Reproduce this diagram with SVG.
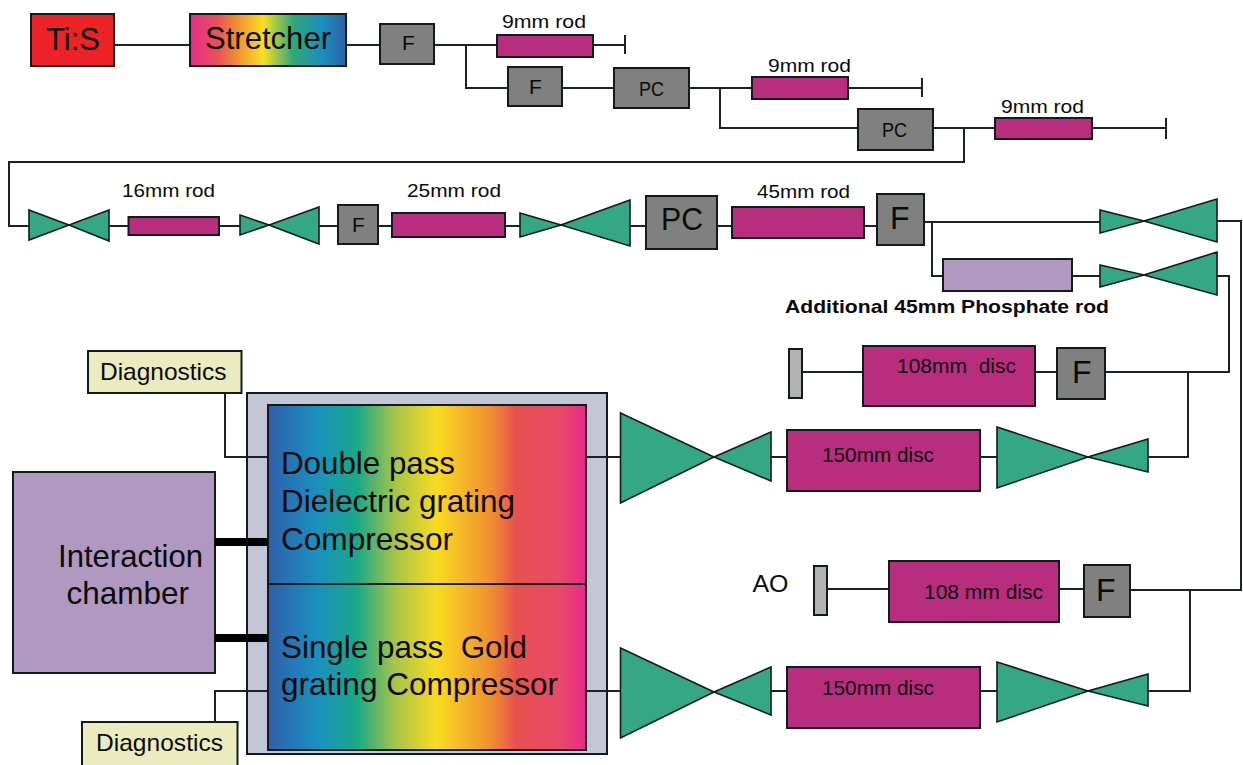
<svg xmlns="http://www.w3.org/2000/svg" width="1243" height="765" viewBox="0 0 1243 765">
<style>
text{font-family:"Liberation Sans",Arial,sans-serif;fill:#0a0a0a}
.b{stroke:#101c1c;stroke-width:2}
.rod{fill:#b92d7e}.g{fill:#808080}.tie{fill:#34a884;stroke:#101c1c;stroke-width:1.6;stroke-linejoin:miter}
.pur{fill:#b098c0}.diag{fill:#ecebc0}.mir{fill:#b2b2b2}
.c{fill:none;stroke:#1a2222;stroke-width:2}
.l{font-size:19px}.f{font-size:21px}.d{font-size:32px}.m{font-size:21px}.x{font-size:24px}.h{font-size:32px}
</style>
<defs>
<linearGradient id="gs" x1="0" x2="1" y1="0" y2="0">
<stop offset="0" stop-color="#e82a88"/><stop offset=".18" stop-color="#e8525a"/><stop offset=".3" stop-color="#f09030"/><stop offset=".47" stop-color="#f8e020"/><stop offset=".66" stop-color="#30a878"/><stop offset=".85" stop-color="#1a8fc0"/><stop offset="1" stop-color="#2f5fa8"/>
</linearGradient>
<linearGradient id="gc" x1="0" x2="1" y1="0" y2="0">
<stop offset="0" stop-color="#2f5fa8"/><stop offset=".15" stop-color="#1a8fc0"/><stop offset=".28" stop-color="#1aa888"/><stop offset=".4" stop-color="#a8c448"/><stop offset=".53" stop-color="#f8dc20"/><stop offset=".7" stop-color="#f09030"/><stop offset=".78" stop-color="#e85050"/><stop offset=".92" stop-color="#e84a68"/><stop offset="1" stop-color="#e82888"/>
</linearGradient>
</defs>
<rect width="1243" height="765" fill="#fff"/>
<g id="connectors">
<path class="c" d="M115 45H190M346 45H380M434 45H497M593 45H625M625 35V54M466 45V88H508M562 88H614"/>
<path class="c" d="M689 88H752M848 88H922M922 78V97M720 88V128H858M933 128H995M1092 128H1166M1166 118V139"/>
<path class="c" d="M964 128V162H9V226H29M109 226H128M219 226H240M319 226H338M378 226H392M505 226H520M630 226H646M717 226H732M864 226H877"/>
<path class="c" d="M924 222H1100M1217 221H1241V590H1130M932 222V276H943M1072 276H1100M1217 276H1229V372H1105"/>
<path class="c" d="M1057 372H1035M863 372H802M1188 372V457H1148M997 457H980M787 457H771M620 457H586"/>
<path class="c" d="M1084 589H1059M889 589H827M1190 590V691H1148M997 691H980M787 691H771M620 691H586"/>
<path class="c" d="M225 393V457H268M237 691H268M215 722V691H237"/>
</g>
<g id="tis"><rect class="b" x="31" y="14" width="83" height="52" fill="#ec2227"/><text class="d" x="46" y="50" textLength="54" lengthAdjust="spacingAndGlyphs">Ti:S</text></g>
<g id="stretcher"><rect class="b" x="190" y="14" width="156" height="52" fill="url(#gs)"/><text class="d" x="205" y="49" textLength="126" lengthAdjust="spacingAndGlyphs">Stretcher</text></g>
<g id="f1"><rect class="b g" x="380" y="24" width="54" height="40"/><text class="f" x="402" y="50">F</text></g>
<g id="rod1"><rect class="b rod" x="497" y="35" width="96" height="22"/><text class="l" x="502" y="28" textLength="84" lengthAdjust="spacingAndGlyphs">9mm rod</text></g>
<g id="f2"><rect class="b g" x="508" y="67" width="54" height="39"/><text class="f" x="529" y="94">F</text></g>
<g id="pc1"><rect class="b g" x="614" y="68" width="75" height="40"/><text class="f" x="639" y="96" textLength="25" lengthAdjust="spacingAndGlyphs">PC</text></g>
<g id="rod2"><rect class="b rod" x="752" y="77" width="96" height="22"/><text class="l" x="768" y="72" textLength="83" lengthAdjust="spacingAndGlyphs">9mm rod</text></g>
<g id="pc2"><rect class="b g" x="858" y="109" width="75" height="41"/><text class="f" x="882" y="137" textLength="25" lengthAdjust="spacingAndGlyphs">PC</text></g>
<g id="rod3"><rect class="b rod" x="995" y="118" width="97" height="21"/><text class="l" x="1001" y="113" textLength="83" lengthAdjust="spacingAndGlyphs">9mm rod</text></g>
<g id="bt1"><path class="tie" d="M29 210L69 225L29 240ZM109 210L69 225L109 241Z"/></g>
<g id="rod16"><rect class="b rod" x="128.500" y="217" width="90.500" height="18"/><text class="l" x="122" y="197" textLength="93" lengthAdjust="spacingAndGlyphs">16mm rod</text></g>
<g id="bt2"><path class="tie" d="M240 215L269 225L240 235ZM319 207L269 225L319 244Z"/></g>
<g id="f3"><rect class="b g" x="338" y="205" width="40" height="39"/><text class="f" x="352" y="232">F</text></g>
<g id="rod25"><rect class="b rod" x="392" y="213" width="113" height="24"/><text class="l" x="407" y="197" textLength="94" lengthAdjust="spacingAndGlyphs">25mm rod</text></g>
<g id="bt3"><path class="tie" d="M520 213L561 225L520 237ZM630 200L561 225L630 246Z"/></g>
<g id="pc3"><rect class="b g" x="646" y="196" width="71" height="53"/><text class="h" x="661" y="230" textLength="42" lengthAdjust="spacingAndGlyphs">PC</text></g>
<g id="rod45"><rect class="b rod" x="732" y="207" width="132" height="31"/><text class="l" x="757" y="198" textLength="93" lengthAdjust="spacingAndGlyphs">45mm rod</text></g>
<g id="f4"><rect class="b g" x="877" y="194" width="47" height="51"/><text class="h" x="890" y="229">F</text></g>
<g id="bt4"><path class="tie" d="M1100 210L1144 221L1100 233ZM1217 199L1144 221L1217 242Z"/></g>
<g id="rodp"><rect class="b pur" x="943" y="259" width="129" height="32"/><text class="l" font-weight="bold" x="785" y="313" textLength="324" lengthAdjust="spacingAndGlyphs">Additional 45mm Phosphate rod</text></g>
<g id="bt5"><path class="tie" d="M1100 265L1144 275L1100 287ZM1217 252L1144 275L1217 295Z"/></g>
<g id="m1"><rect class="b mir" x="789" y="349" width="13" height="49"/></g>
<g id="d108a"><rect class="b rod" x="863" y="346" width="172" height="60"/><text class="m" x="897" y="373" xml:space="preserve" textLength="119" lengthAdjust="spacingAndGlyphs">108mm  disc</text></g>
<g id="f5"><rect class="b g" x="1057" y="348" width="48" height="51"/><text class="h" x="1072" y="383">F</text></g>
<g id="bt6"><path class="tie" d="M997 427L1088 457L997 488ZM1148 439L1088 457L1148 472Z"/></g>
<g id="d150a"><rect class="b rod" x="787" y="430" width="193" height="61"/><text class="m" x="822" y="462" textLength="112" lengthAdjust="spacingAndGlyphs">150mm disc</text></g>
<g id="bt7"><path class="tie" d="M620.500 413L714 457L620.500 503ZM771 432L714 457L771 481Z"/></g>
<g id="ao"><text class="x" x="752.500" y="592" textLength="36" lengthAdjust="spacingAndGlyphs">AO</text><rect class="b mir" x="814" y="566" width="13" height="49"/></g>
<g id="d108b"><rect class="b rod" x="889" y="561" width="170" height="61"/><text class="m" x="924" y="599" textLength="119" lengthAdjust="spacingAndGlyphs">108 mm disc</text></g>
<g id="f6"><rect class="b g" x="1084" y="565" width="46" height="52"/><text class="h" x="1096" y="601">F</text></g>
<g id="bt8"><path class="tie" d="M997 662L1088 691L997 722ZM1148 674L1088 691L1148 706Z"/></g>
<g id="d150b"><rect class="b rod" x="787" y="667" width="193" height="61"/><text class="m" x="822" y="695" textLength="112" lengthAdjust="spacingAndGlyphs">150mm disc</text></g>
<g id="bt9"><path class="tie" d="M620.500 648L714 692L620.500 738ZM771 667L714 692L771 715Z"/></g>
<g id="compressor">
<rect class="b" x="247" y="393" width="360" height="361" fill="#c5c5d8"/>
<path class="c" d="M247 457H268M247 691H268M586 457H607M586 691H607"/>
<rect class="b" x="268" y="405" width="318" height="179" fill="url(#gc)"/>
<rect class="b" x="268" y="584" width="318" height="166" fill="url(#gc)"/>
<text class="d" x="281" y="474" textLength="174" lengthAdjust="spacingAndGlyphs">Double pass</text>
<text class="d" x="281" y="512" textLength="234" lengthAdjust="spacingAndGlyphs">Dielectric grating</text>
<text class="d" x="281" y="550" textLength="172" lengthAdjust="spacingAndGlyphs">Compressor</text>
<text class="d" x="281" y="658" xml:space="preserve" textLength="246" lengthAdjust="spacingAndGlyphs">Single pass  Gold</text>
<text class="d" x="281" y="695" textLength="277" lengthAdjust="spacingAndGlyphs">grating Compressor</text>
</g>
<g id="chamber"><rect class="b pur" x="13" y="472" width="202" height="201"/><text class="d" x="58" y="567" textLength="145" lengthAdjust="spacingAndGlyphs">Interaction</text><text class="d" x="66.500" y="604" textLength="122.500" lengthAdjust="spacingAndGlyphs">chamber</text></g>
<g id="links"><rect x="215" y="538" width="53" height="8" fill="#000"/><rect x="215" y="634" width="53" height="8" fill="#000"/></g>
<g id="diag1"><rect class="b diag" x="88" y="351" width="153.500" height="42"/><text class="x" x="100" y="380" textLength="126.500" lengthAdjust="spacingAndGlyphs">Diagnostics</text></g>
<g id="diag2"><rect class="b diag" x="82" y="722" width="155.500" height="50"/><text class="x" x="96" y="751" textLength="127" lengthAdjust="spacingAndGlyphs">Diagnostics</text></g>
</svg>
